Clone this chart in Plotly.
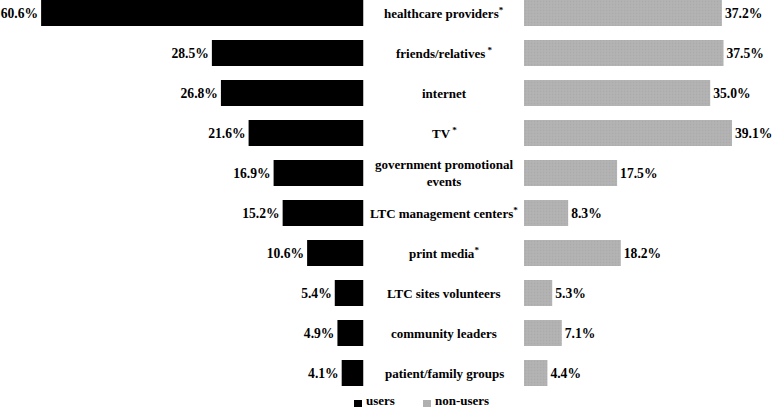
import plotly.graph_objects as go

categories = ["healthcare providers<sup>*</sup>", "friends/relatives<sup> *</sup>", "internet", "TV<sup> *</sup>",
              "government promotional<br>events", "LTC management centers<sup>*</sup>", "print media<sup>*</sup>",
              "LTC sites volunteers", "community leaders", "patient/family groups"]
users = [60.6, 28.5, 26.8, 21.6, 16.9, 15.2, 10.6, 5.4, 4.9, 4.1]
non_users = [37.2, 37.5, 35.0, 39.1, 17.5, 8.3, 18.2, 5.3, 7.1, 4.4]
series_names = ["users", "non-users"]
series_colors = ["#000000", "#b0b0b0"]

W, H = 774, 408
FONT = "Liberation Serif"
FS = 13
FSV = 13.6
idx = list(range(len(categories)))

fig = go.Figure()
fig.add_trace(go.Bar(
    y=idx, x=users, orientation="h", name=series_names[0], xaxis="x", yaxis="y",
    marker=dict(color=series_colors[0], line=dict(width=0)), width=0.65,
    text=[f"{v:.1f}%" for v in users], textposition="outside",
    textfont=dict(family=FONT, size=FSV, color="black", weight="bold"),
    cliponaxis=False, constraintext="none", showlegend=False,
))
fig.add_trace(go.Bar(
    y=idx, x=non_users, orientation="h", name=series_names[1], xaxis="x2", yaxis="y",
    marker=dict(color=series_colors[1], line=dict(width=0),
                pattern=dict(shape=".", fgcolor="#a2a2a2", bgcolor="#b4b4b4", size=3, solidity=0.3)),
    width=0.65,
    text=[f"{v:.1f}%" for v in non_users], textposition="outside",
    textfont=dict(family=FONT, size=FSV, color="black", weight="bold"),
    cliponaxis=False, constraintext="none", showlegend=False,
))

scale = 5.32  # px per percent
left_end = 363.5
right_start = 524.0
plot_h = 390.0
pitch = 40.0
top_val = -(13.0 / pitch)
bot_val = top_val + plot_h / pitch

for i, c in enumerate(categories):
    fig.add_annotation(x=444 / W, xref="paper", y=i, yref="y", text=f"<b>{c}</b>",
                       showarrow=False, xanchor="center", yanchor="middle",
                       font=dict(family=FONT, size=FS, color="black"))

# manual legend below the plot
leg_y = -(10.5 / plot_h)
leg_x = [354 / W, 423 / W]
for name, col, lx in zip(series_names, series_colors, leg_x):
    fig.add_shape(type="rect", xref="paper", yref="paper",
                  x0=lx, x1=lx + 8 / W, y0=-(17 / plot_h), y1=-(10 / plot_h),
                  fillcolor=col, line=dict(width=0))
    fig.add_annotation(x=lx + 10 / W, xref="paper", y=leg_y, yref="paper", text=f"<b>{name}</b>",
                       showarrow=False, xanchor="left", yanchor="middle",
                       font=dict(family=FONT, size=13, color="black"))

fig.update_layout(
    width=W, height=H, margin=dict(l=0, r=0, t=0, b=H - plot_h, autoexpand=False),
    plot_bgcolor="white", paper_bgcolor="white",
    font=dict(family=FONT, size=FS, color="black"),
    xaxis=dict(domain=[0, left_end / W], range=[left_end / scale, 0], visible=False, fixedrange=True),
    xaxis2=dict(domain=[right_start / W, 1], range=[0, (W - right_start) / scale], visible=False, fixedrange=True),
    yaxis=dict(range=[bot_val, top_val], visible=False, fixedrange=True),
    showlegend=False,
    bargap=0.35,
)

fig.write_html("out.html")
